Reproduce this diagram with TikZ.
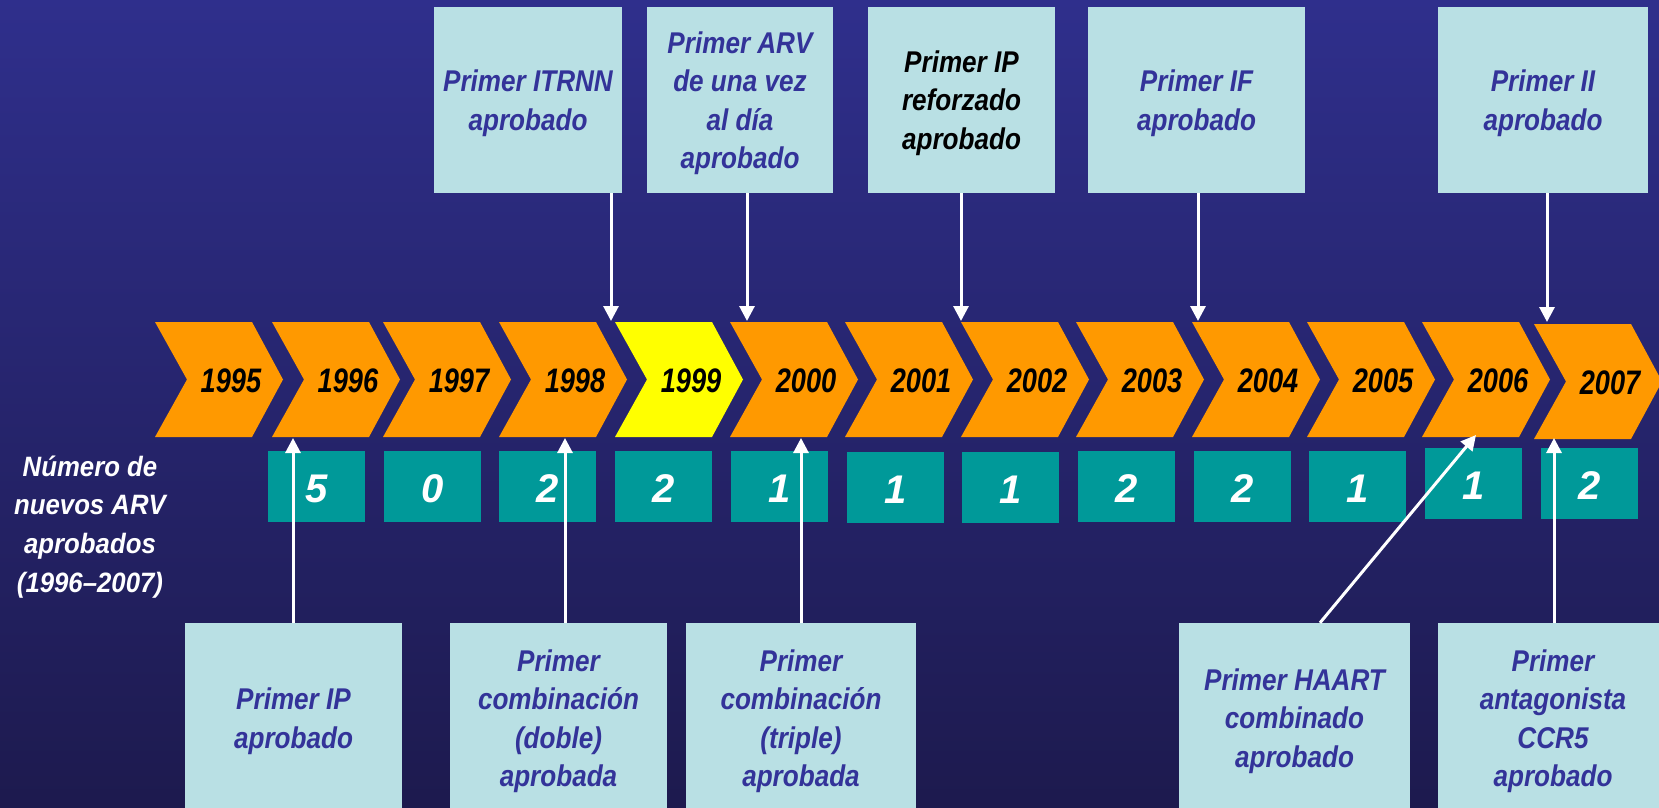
\documentclass[tikz,border=0pt]{standalone}
\usepackage{fontspec}
\setmainfont{Liberation Sans}
\newfontfamily\nfont[FakeStretch=0.87]{Liberation Sans}
\newfontfamily\lfont[FakeStretch=0.92]{Liberation Sans}
\newfontfamily\yfont[FakeStretch=0.8]{Liberation Sans}
\usetikzlibrary{arrows.meta}
\definecolor{bgtop}{RGB}{47,47,140}
\definecolor{bgbot}{RGB}{29,26,78}
\definecolor{orng}{RGB}{255,153,0}
\definecolor{yel}{RGB}{255,255,0}
\definecolor{tealbox}{RGB}{0,153,153}
\definecolor{lblue}{RGB}{185,224,228}
\definecolor{dblue}{RGB}{51,51,153}
\begin{document}
\begin{tikzpicture}[x=1pt,y=-1pt,
  infobox/.style={fill=lblue, inner sep=0pt, align=center, text=dblue, text depth=0pt,
    font=\nfont\bfseries\itshape\fontsize{30}{38.5}\selectfont},
  numbox/.style={fill=tealbox, minimum width=97pt, minimum height=71pt, inner sep=0pt,
    text=white, font=\bfseries\itshape\fontsize{39}{39}\selectfont},
  numlbl/.style={inner sep=0pt, text=white, font=\bfseries\itshape\fontsize{40}{40}\selectfont},
  arr/.style={draw=white, line width=3pt, -{Triangle[width=15pt,length=15pt]}},
  yearlbl/.style={inner sep=0pt, text=black, font=\yfont\bfseries\itshape\fontsize{34}{34}\selectfont}]
\useasboundingbox (0,0) rectangle (1659,808);
\shade[top color=bgtop, bottom color=bgbot] (0,0) rectangle (1659,808);

% chevrons
\foreach \x/\yt/\c/\lab in {155/322/orng/1995, 272/322/orng/1996, 383/322/orng/1997,
  499/322/orng/1998, 615/322/yel/1999, 730/322/orng/2000, 845/322/orng/2001,
  961/322/orng/2002, 1076/322/orng/2003, 1192/322/orng/2004, 1307/322/orng/2005,
  1422/322/orng/2006, 1534/324/orng/2007}{
  \fill[\c] (\x,\yt) -- ++(97,0) -- ++(31,57.5) -- ++(-31,57.5) -- ++(-97,0) -- ++(32,-57.5) -- cycle;
  \node[yearlbl] (y\lab) at (\x+76,\yt+59) {\lab};
}

% number boxes
\foreach \x/\yy/\n in {268/451/5, 384/451/0, 499/451/2, 615/451/2, 731/451/1, 847/452/1,
  962/452/1, 1078/451/2, 1194/451/2, 1309/451/1, 1425/448/1, 1541/448/2}{
  \node[numbox, anchor=north west] (n\x) at (\x,\yy) {};
  \node[numlbl] (d\x) at ([yshift=-2pt]n\x.center) {\n};
}

% left label
\node[inner sep=0pt, align=center, text=white, text depth=0pt,
  font=\lfont\bfseries\itshape\fontsize{28}{38.7}\selectfont] (lbl) at (90,524)
  {Número de\\nuevos ARV\\aprobados\\(1996–2007)};

% top boxes
\node[infobox, minimum width=188pt, minimum height=186pt] (b1) at (528,100) {Primer ITRNN\\aprobado};
\node[infobox, minimum width=186pt, minimum height=186pt] (b2) at (740,100) {Primer ARV\\de una vez\\al día\\aprobado};
\node[infobox, minimum width=187pt, minimum height=186pt, text=black] (b3) at (961.5,100) {Primer IP\\reforzado\\aprobado};
\node[infobox, minimum width=217pt, minimum height=186pt] (b4) at (1196.5,100) {Primer IF\\aprobado};
\node[infobox, minimum width=210pt, minimum height=186pt] (b5) at (1543,100) {Primer II\\aprobado};

% bottom boxes
\node[infobox, minimum width=217pt, minimum height=190pt] (c1) at (293.5,718) {Primer IP\\aprobado};
\node[infobox, minimum width=217pt, minimum height=190pt] (c2) at (558.5,718) {Primer\\combinación\\(doble)\\aprobada};
\node[infobox, minimum width=230pt, minimum height=190pt] (c3) at (801,718) {Primer\\combinación\\(triple)\\aprobada};
\node[infobox, minimum width=231pt, minimum height=190pt] (c4) at (1294.5,718) {Primer HAART\\combinado\\aprobado};
\node[infobox, minimum width=230pt, minimum height=190pt] (c5) at (1553,718) {Primer\\antagonista\\CCR5\\aprobado};

% arrow targets
\coordinate (t1) at (611,321);
\coordinate (t2) at (747,321);
\coordinate (t3) at (961,321);
\coordinate (t4) at (1198,321);
\coordinate (t5) at (1547,322);
\coordinate (u1) at (293,438);
\coordinate (u2) at (565,438);
\coordinate (u3) at (801,438);
\coordinate (u4) at (1476,435);
\coordinate (hs) at (1320,623);
\coordinate (u5) at (1554,438);

\draw[arr] (t1 |- b1.south) -- (t1);
\draw[arr] (t2 |- b2.south) -- (t2);
\draw[arr] (t3 |- b3.south) -- (t3);
\draw[arr] (t4 |- b4.south) -- (t4);
\draw[arr] (t5 |- b5.south) -- (t5);
\draw[arr] (u1 |- c1.north) -- (u1);
\draw[arr] (u2 |- c2.north) -- (u2);
\draw[arr] (u3 |- c3.north) -- (u3);
\draw[arr] (hs |- c4.north) -- (u4);
\draw[arr] (u5 |- c5.north) -- (u5);
\end{tikzpicture}
\end{document}
